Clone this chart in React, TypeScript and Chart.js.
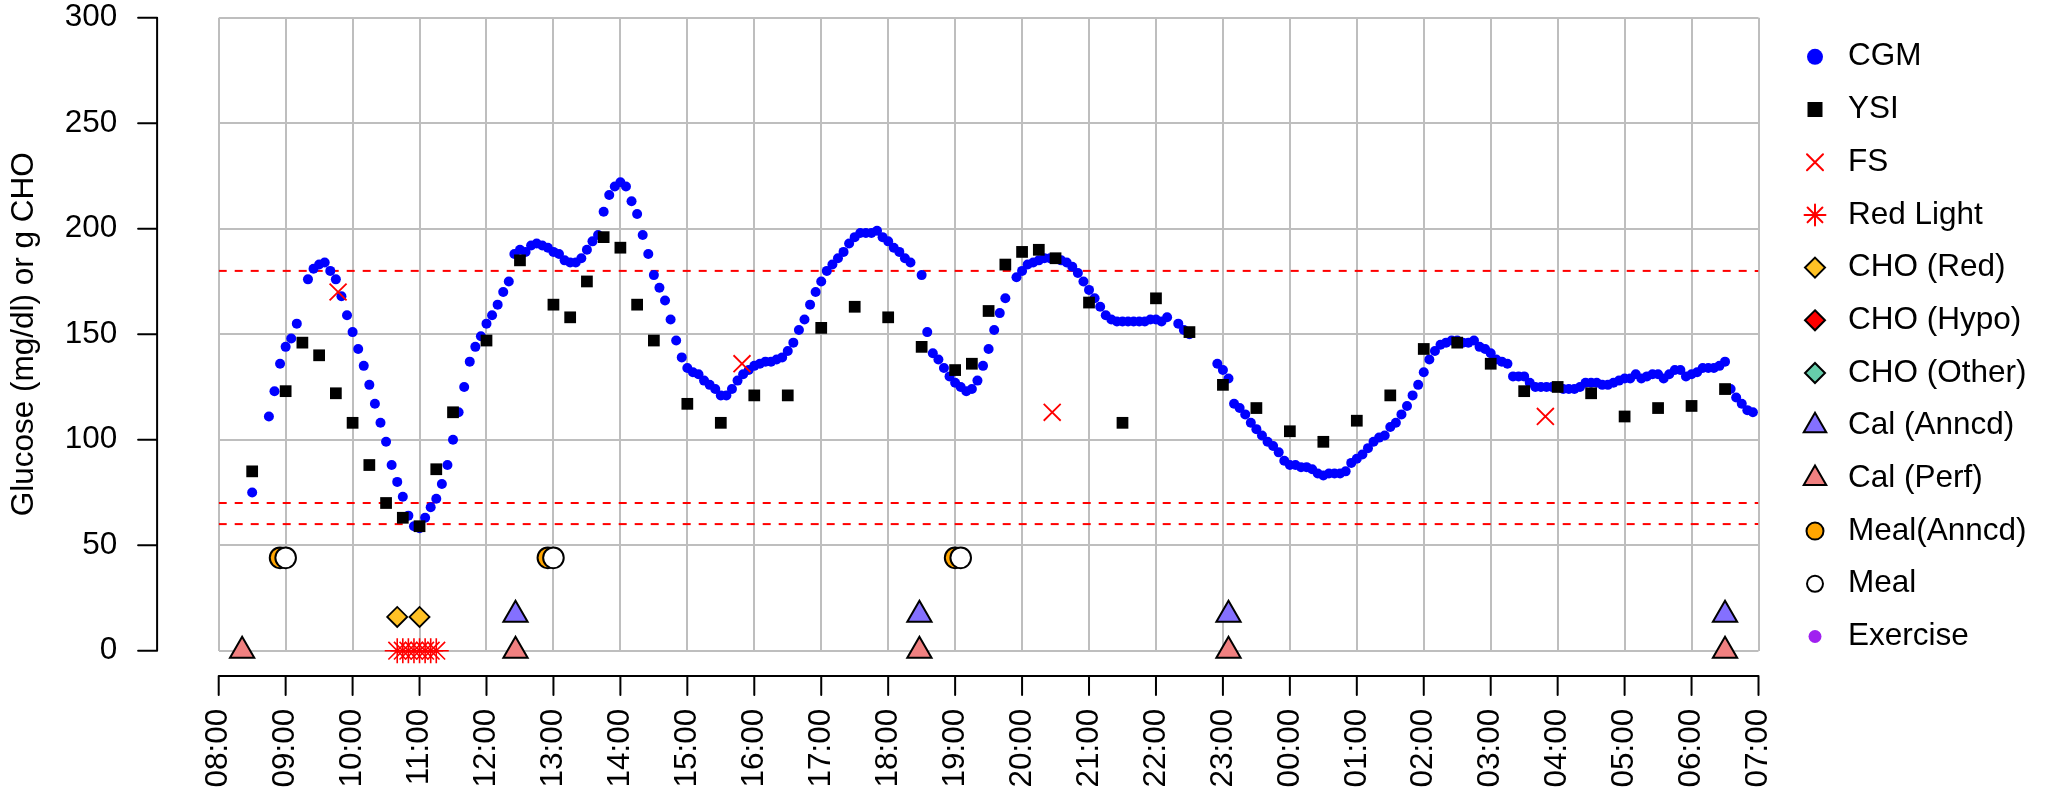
import React, { useEffect, useRef } from 'react';
import { Chart, registerables } from 'chart.js';

Chart.register(...registerables);

// ---------- data ----------
const xTickLabels = ['08:00','09:00','10:00','11:00','12:00','13:00','14:00','15:00','16:00','17:00','18:00','19:00','20:00','21:00','22:00','23:00','00:00','01:00','02:00','03:00','04:00','05:00','06:00','07:00'];
const yTickValues = [0, 50, 100, 150, 200, 250, 300];

const cgmTimes = [
  '08:30','08:45','08:50','08:55','09:00','09:05','09:10','09:20','09:25','09:30','09:35','09:40','09:45','09:50','09:55',
  '10:00','10:05','10:10','10:15','10:20','10:25','10:30','10:35','10:40','10:45','10:50','10:55',
  '11:00','11:05','11:10','11:15','11:20','11:25','11:30','11:35','11:40','11:45','11:50','11:55',
  '12:00','12:05','12:10','12:15','12:20','12:25','12:30','12:35','12:40','12:45','12:50','12:55',
  '13:00','13:05','13:10','13:15','13:20','13:25','13:30','13:35','13:40','13:45','13:50','13:55',
  '14:00','14:05','14:10','14:15','14:20','14:25','14:30','14:35','14:40','14:45','14:50','14:55',
  '15:00','15:05','15:10','15:15','15:20','15:25','15:30','15:35','15:40','15:45','15:50','15:55',
  '16:00','16:05','16:10','16:15','16:20','16:25','16:30','16:35','16:40','16:45','16:50','16:55',
  '17:00','17:05','17:10','17:15','17:20','17:25','17:30','17:35','17:40','17:45','17:50','17:55',
  '18:00','18:05','18:10','18:15','18:20','18:30','18:35','18:40','18:45','18:50','18:55',
  '19:00','19:05','19:10','19:15','19:20','19:25','19:30','19:35','19:40','19:45','19:55',
  '20:00','20:05','20:10','20:15','20:20','20:25','20:30','20:35','20:40','20:45','20:50','20:55',
  '21:00','21:05','21:10','21:15','21:20','21:25','21:30','21:35','21:40','21:45','21:50','21:55',
  '22:00','22:05','22:10','22:20','22:25','22:30','22:55',
  '23:00','23:05','23:10','23:15','23:20','23:25','23:30','23:35','23:40','23:45','23:50','23:55',
  '00:00','00:05','00:10','00:15','00:20','00:25','00:30','00:35','00:40','00:45','00:50','00:55',
  '01:00','01:05','01:10','01:15','01:20','01:25','01:30','01:35','01:40','01:45','01:50','01:55',
  '02:00','02:05','02:10','02:15','02:20','02:25','02:30','02:35','02:40','02:45','02:50','02:55',
  '03:00','03:05','03:10','03:15','03:20','03:25','03:30','03:35','03:40','03:45','03:50','03:55',
  '04:00','04:05','04:10','04:15','04:20','04:25','04:30','04:35','04:40','04:45','04:50','04:55',
  '05:00','05:05','05:10','05:15','05:20','05:25','05:30','05:35','05:40','05:45','05:50','05:55',
  '06:00','06:05','06:10','06:15','06:20','06:25','06:30','06:35','06:40','06:45','06:50','06:55',
];
const cgmValues = [
  75,111,123,136,144,148,155,176,181,183,184,180,176,168,159,
  151,143,135,126,117,108,99,88,80,73,64,59,
  58,63,68,72,79,88,100,113,125,137,144,149,
  155,159,164,170,175,188,190,189,192,193,192,191,
  189,188,185,184,184,186,190,194,197,208,216,220,
  222,220,213,207,197,188,178,172,166,157,147,139,
  134,132,131,128,126,124,121,121,124,128,131,133,
  135,136,137,137,138,139,142,146,152,157,164,170,
  175,180,183,186,189,193,196,198,198,198,199,196,
  194,191,189,186,184,178,151,141,138,134,130,
  127,125,123,124,128,135,143,152,160,167,177,
  180,183,184,185,186,186,186,185,184,182,179,175,
  171,167,163,159,157,156,156,156,156,156,156,157,
  157,156,158,155,152,150,136,
  133,129,117,115,112,108,105,102,99,97,94,90,
  88,88,87,87,86,84,83,84,84,84,85,89,
  91,93,96,99,101,102,106,108,112,116,121,126,
  132,138,142,145,146,147,147,146,146,147,144,143,
  141,138,137,136,130,130,130,127,125,125,125,125,
  125,124,124,124,125,127,127,127,126,126,127,128,
  129,129,131,129,130,131,131,129,131,133,133,130,
  131,132,134,134,134,135,137,124,120,117,114,113,
];

const ysiTimes = ['08:30','09:00','09:15','09:30','09:45','10:00','10:15','10:30','10:45','11:00','11:15','11:30','12:00','12:30','13:00','13:15','13:30','13:45','14:00','14:15','14:30','15:00','15:30','16:00','16:30','17:00','17:30','18:00','18:30','19:00','19:15','19:30','19:45','20:00','20:15','20:30','21:00','21:30','22:00','22:30','23:00','23:30','00:00','00:30','01:00','01:30','02:00','02:30','03:00','03:30','04:00','04:30','05:00','05:30','06:00','06:30'];
const ysiValues = [85,123,146,140,122,108,88,70,63,59,86,113,147,185,164,158,175,196,191,164,147,117,108,121,121,153,163,158,144,133,136,161,183,189,190,186,165,108,167,151,126,115,104,99,109,121,143,146,136,123,125,122,111,115,116,124];

const fsTimes = ['09:47','15:49','20:27','03:49'];
const fsValues = [170, 136, 113, 111];

const redLightTimes = ['10:40','10:45','10:50','10:55','11:00','11:05','11:10','11:15'];
const redLightValues = [0, 0, 0, 0, 0, 0, 0, 0];

const choRedTimes = ['10:40','11:00'];
const choRedValues = [16, 16];

const calAnncdTimes = ['12:26','18:28','23:05','06:30'];
const calAnncdValues = [17, 17, 17, 17];

const calPerfTimes = ['08:21','12:26','18:28','23:05','06:30'];
const calPerfValues = [0, 0, 0, 0, 0];

const mealAnncdTimes = ['08:55','12:55','19:00'];
const mealAnncdValues = [44, 44, 44];

const mealTimes = ['09:00','13:00','19:05'];
const mealValues = [44, 44, 44];

const thresholdValues = [180, 70, 60];

const legendLabels = ['CGM','YSI','FS','Red Light','CHO (Red)','CHO (Hypo)','CHO (Other)','Cal (Anncd)','Cal (Perf)','Meal(Anncd)','Meal','Exercise'];

// ---------- helpers ----------
const X_MIN = 0;
const X_MAX = 23;
const FONT = '"Liberation Sans", Arial, Helvetica, sans-serif';
const FONT_SIZE = 31.5;

function toHours(t: string): number {
  const [h, m] = t.split(':').map(Number);
  let mins = h * 60 + m - 8 * 60;
  if (mins < 0) mins += 24 * 60;
  return mins / 60;
}
function pts(times: string[], values: number[]) {
  return times.map((t, i) => ({ x: toHours(t), y: values[i] }));
}

type Shape = 'circle' | 'square' | 'cross' | 'star' | 'diamond' | 'triangle';
function drawShape(ctx: CanvasRenderingContext2D, shape: Shape, x: number, y: number, r: number, fill: string | null, stroke: string | null, lw: number) {
  ctx.save();
  ctx.beginPath();
  switch (shape) {
    case 'circle':
      ctx.arc(x, y, r, 0, Math.PI * 2);
      break;
    case 'square':
      ctx.rect(x - r, y - r, 2 * r, 2 * r);
      break;
    case 'diamond':
      ctx.moveTo(x, y - r); ctx.lineTo(x + r, y); ctx.lineTo(x, y + r); ctx.lineTo(x - r, y); ctx.closePath();
      break;
    case 'triangle':
      ctx.moveTo(x, y - r); ctx.lineTo(x + r * 0.866, y + r * 0.5); ctx.lineTo(x - r * 0.866, y + r * 0.5); ctx.closePath();
      break;
    case 'cross':
      ctx.moveTo(x - r, y - r); ctx.lineTo(x + r, y + r); ctx.moveTo(x - r, y + r); ctx.lineTo(x + r, y - r);
      break;
    case 'star': {
      const d = r * Math.SQRT1_2;
      ctx.moveTo(x - r, y); ctx.lineTo(x + r, y); ctx.moveTo(x, y - r); ctx.lineTo(x, y + r);
      ctx.moveTo(x - d, y - d); ctx.lineTo(x + d, y + d); ctx.moveTo(x - d, y + d); ctx.lineTo(x + d, y - d);
      break;
    }
  }
  if (fill) { ctx.fillStyle = fill; ctx.fill(); }
  if (stroke && lw > 0) { ctx.strokeStyle = stroke; ctx.lineWidth = lw; ctx.stroke(); }
  ctx.restore();
}

const legendShapes: { shape: Shape; r: number; fill: string | null; stroke: string | null; lw: number }[] = [
  { shape: 'circle', r: 8, fill: '#0000FF', stroke: null, lw: 0 },
  { shape: 'square', r: 7.5, fill: '#000000', stroke: null, lw: 0 },
  { shape: 'cross', r: 8, fill: null, stroke: '#FF0000', lw: 2 },
  { shape: 'star', r: 10.5, fill: null, stroke: '#FF0000', lw: 2 },
  { shape: 'diamond', r: 10, fill: '#FFC125', stroke: '#000000', lw: 2 },
  { shape: 'diamond', r: 10, fill: '#FF0000', stroke: '#000000', lw: 2 },
  { shape: 'diamond', r: 10, fill: '#66CDAA', stroke: '#000000', lw: 2 },
  { shape: 'triangle', r: 13, fill: '#8470FF', stroke: '#000000', lw: 2 },
  { shape: 'triangle', r: 13, fill: '#F08080', stroke: '#000000', lw: 2 },
  { shape: 'circle', r: 8.5, fill: '#FFA500', stroke: '#000000', lw: 2 },
  { shape: 'circle', r: 8, fill: '#FFFFFF', stroke: '#000000', lw: 2 },
  { shape: 'circle', r: 6.5, fill: '#A020F0', stroke: null, lw: 0 },
];

const rAxesPlugin = {
  id: 'rAxes',
  beforeDraw(chart: any) {
    const { ctx } = chart;
    ctx.save();
    ctx.fillStyle = '#FFFFFF';
    ctx.fillRect(0, 0, chart.width, chart.height);
    ctx.restore();
  },
  afterDraw(chart: any) {
    const { ctx } = chart;
    const xs = chart.scales.x;
    const ys = chart.scales.y;
    const x0 = xs.getPixelForValue(X_MIN);
    const x1 = xs.getPixelForValue(X_MAX);
    const y0 = ys.getPixelForValue(0);
    const y1 = ys.getPixelForValue(300);
    const axisY = y0 + 0.04 * (y0 - y1);
    const axisX = x0 - 0.04 * (x1 - x0);
    const tick = 19;
    ctx.save();
    ctx.strokeStyle = '#000000';
    ctx.lineWidth = 2;
    ctx.lineCap = 'round';
    ctx.beginPath();
    ctx.moveTo(x0, axisY); ctx.lineTo(x1, axisY);
    xTickLabels.forEach((_, i) => {
      const px = xs.getPixelForValue(X_MIN + i);
      ctx.moveTo(px, axisY); ctx.lineTo(px, axisY + tick);
    });
    ctx.moveTo(axisX, y0); ctx.lineTo(axisX, y1);
    yTickValues.forEach((v) => {
      const py = ys.getPixelForValue(v);
      ctx.moveTo(axisX, py); ctx.lineTo(axisX - tick, py);
    });
    ctx.stroke();

    // legend
    const symX = 1815;
    const textX = 1848;
    const top = 56.8;
    const step = 52.7;
    ctx.font = `${FONT_SIZE}px ${FONT}`;
    ctx.fillStyle = '#000000';
    ctx.textBaseline = 'middle';
    ctx.textAlign = 'left';
    legendLabels.forEach((label, i) => {
      const yy = top + i * step;
      const s = legendShapes[i];
      drawShape(ctx, s.shape, symX, yy, s.r, s.fill, s.stroke, s.lw);
      ctx.fillStyle = '#000000';
      ctx.fillText(label, textX, yy);
    });
    ctx.restore();
  },
};

export default function App() {
  const ref = useRef<HTMLCanvasElement>(null);
  useEffect(() => {
    const canvas = ref.current;
    if (!canvas) return;
    const pointBase = { showLine: false, clip: false as any };
    const chart = new Chart(canvas, {
      type: 'scatter',
      data: {
        datasets: [
          ...thresholdValues.map((v, i) => ({
            type: 'line' as const,
            label: 'th' + i,
            data: [{ x: X_MIN, y: v }, { x: X_MAX, y: v }],
            borderColor: '#FF0000',
            borderWidth: 2,
            borderDash: [8, 8],
            pointRadius: 0,
            fill: false,
            order: 20 + i,
          })),
          { ...pointBase, label: 'CGM', data: pts(cgmTimes, cgmValues), pointStyle: 'circle', pointRadius: 5, backgroundColor: '#0000FF', borderWidth: 0, order: 10 },
          { ...pointBase, label: 'YSI', data: pts(ysiTimes, ysiValues), pointStyle: 'rect', pointRadius: 8.3, backgroundColor: '#000000', borderWidth: 0, order: 9 },
          { ...pointBase, label: 'FS', data: pts(fsTimes, fsValues), pointStyle: 'crossRot', pointRadius: 12, borderColor: '#FF0000', borderWidth: 1.8, order: 8 },
          { ...pointBase, label: 'Red Light', data: pts(redLightTimes, redLightValues), pointStyle: 'star', pointRadius: 12.5, borderColor: '#FF0000', borderWidth: 1.6, order: 7 },
          { ...pointBase, label: 'CHO (Red)', data: pts(choRedTimes, choRedValues), pointStyle: 'rectRot', pointRadius: 10, backgroundColor: '#FFC125', borderColor: '#000000', borderWidth: 1.8, order: 6 },
          { ...pointBase, label: 'Cal (Anncd)', data: pts(calAnncdTimes, calAnncdValues), pointStyle: 'triangle', pointRadius: 14, backgroundColor: '#8470FF', borderColor: '#000000', borderWidth: 2, order: 5 },
          { ...pointBase, label: 'Cal (Perf)', data: pts(calPerfTimes, calPerfValues), pointStyle: 'triangle', pointRadius: 14, backgroundColor: '#F08080', borderColor: '#000000', borderWidth: 2, order: 4 },
          { ...pointBase, label: 'Meal(Anncd)', data: pts(mealAnncdTimes, mealAnncdValues), pointStyle: 'circle', pointRadius: 10.3, backgroundColor: '#FFA500', borderColor: '#000000', borderWidth: 2, order: 3 },
          { ...pointBase, label: 'Meal', data: pts(mealTimes, mealValues), pointStyle: 'circle', pointRadius: 10.3, backgroundColor: '#FFFFFF', borderColor: '#000000', borderWidth: 2, order: 2 },
        ] as any,
      },
      options: {
        animation: false,
        responsive: false,
        devicePixelRatio: 1,
        events: [],
        layout: { padding: { left: 0, top: 17.7, right: 2049 - 1758.5, bottom: 0 } },
        plugins: {
          legend: { display: false },
          tooltip: { enabled: false },
        },
        elements: { point: { hoverRadius: 0 } as any },
        scales: {
          x: {
            type: 'linear',
            min: X_MIN,
            max: X_MAX,
            grid: { color: '#BEBEBE', lineWidth: 2, drawTicks: true, tickLength: 58, tickColor: 'rgba(0,0,0,0)' },
            border: { display: false },
            ticks: {
              stepSize: 1,
              autoSkip: false,
              maxRotation: 90,
              minRotation: 90,
              padding: 0,
              color: '#000000',
              font: { family: FONT, size: FONT_SIZE, lineHeight: 1 },
              callback: (_v: any, i: number) => xTickLabels[i],
            },
            afterFit: (scale: any) => { scale.height = 803 - 650.7; },
          },
          y: {
            type: 'linear',
            min: 0,
            max: 300,
            grid: { color: '#BEBEBE', lineWidth: 2, drawTicks: true, tickLength: 101.4, tickColor: 'rgba(0,0,0,0)' },
            border: { display: false },
            ticks: {
              stepSize: 50,
              padding: 0,
              color: '#000000',
              font: { family: FONT, size: FONT_SIZE, lineHeight: 1 },
              callback: (v: any) => String(v),
            },
            title: {
              display: true,
              text: 'Glucose (mg/dl) or g CHO',
              color: '#000000',
              font: { family: FONT, size: FONT_SIZE, lineHeight: 1 },
              padding: { top: 24.5 - FONT_SIZE / 2, bottom: 0 },
            },
            afterFit: (scale: any) => { scale.width = 218.7; },
          },
        },
      } as any,
      plugins: [rAxesPlugin],
    });
    return () => chart.destroy();
  }, []);
  return (
    <div style={{ position: 'absolute', left: 0, top: 0, width: 2049, height: 803, background: '#FFFFFF' }}>
      <canvas ref={ref} width={2049} height={803} style={{ display: 'block', width: 2049, height: 803 }} />
    </div>
  );
}
